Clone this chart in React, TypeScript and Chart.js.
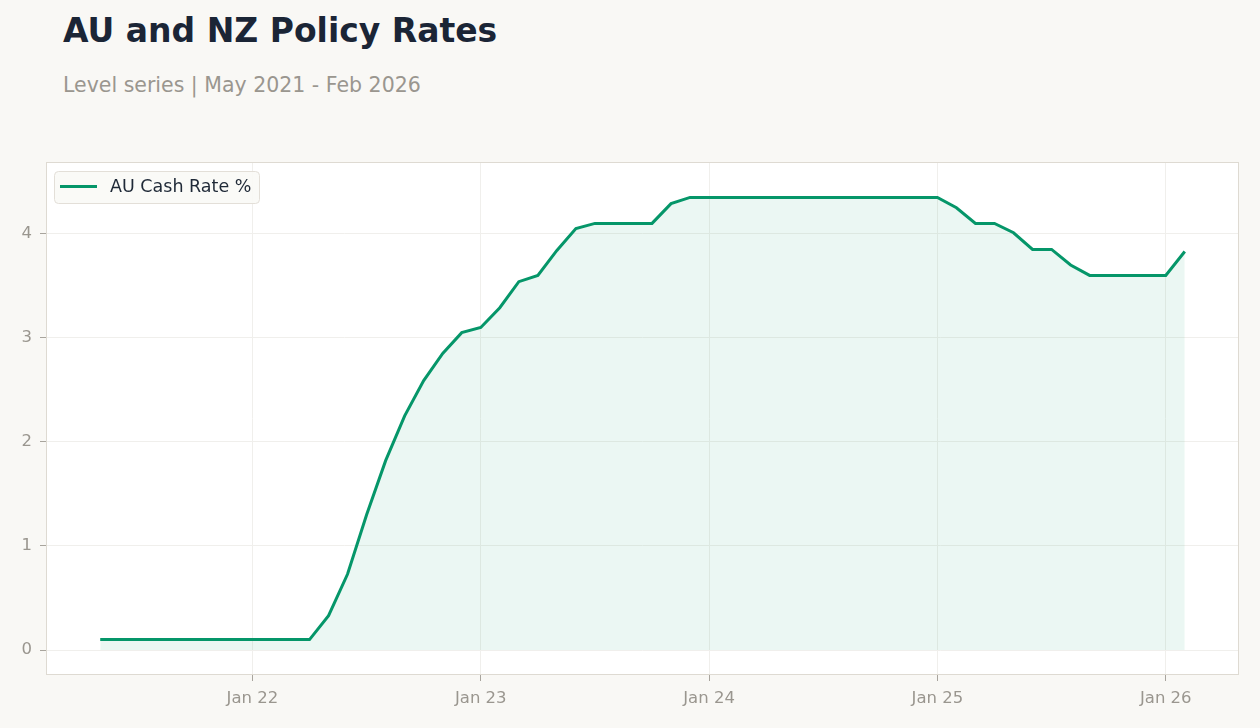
import { useEffect, useRef } from "react";
import { Chart, registerables } from "chart.js";

Chart.register(...registerables);

const months = [
  "May 21", "Jun 21", "Jul 21", "Aug 21", "Sep 21", "Oct 21", "Nov 21", "Dec 21",
  "Jan 22", "Feb 22", "Mar 22", "Apr 22", "May 22", "Jun 22", "Jul 22", "Aug 22", "Sep 22", "Oct 22", "Nov 22", "Dec 22",
  "Jan 23", "Feb 23", "Mar 23", "Apr 23", "May 23", "Jun 23", "Jul 23", "Aug 23", "Sep 23", "Oct 23", "Nov 23", "Dec 23",
  "Jan 24", "Feb 24", "Mar 24", "Apr 24", "May 24", "Jun 24", "Jul 24", "Aug 24", "Sep 24", "Oct 24", "Nov 24", "Dec 24",
  "Jan 25", "Feb 25", "Mar 25", "Apr 25", "May 25", "Jun 25", "Jul 25", "Aug 25", "Sep 25", "Oct 25", "Nov 25", "Dec 25",
  "Jan 26", "Feb 26",
];

const auCashRate = [
  0.10, 0.10, 0.10, 0.10, 0.10, 0.10, 0.10, 0.10,
  0.10, 0.10, 0.10, 0.10, 0.33, 0.73, 1.30, 1.82, 2.25, 2.59, 2.85, 3.05,
  3.10, 3.29, 3.54, 3.60, 3.84, 4.05, 4.10, 4.10, 4.10, 4.10, 4.29, 4.35,
  4.35, 4.35, 4.35, 4.35, 4.35, 4.35, 4.35, 4.35, 4.35, 4.35, 4.35, 4.35,
  4.35, 4.25, 4.10, 4.10, 4.01, 3.85, 3.85, 3.70, 3.60, 3.60, 3.60, 3.60,
  3.60, 3.83,
];

const xTickLabels = ["Jan 22", "Jan 23", "Jan 24", "Jan 25", "Jan 26"];
const yTickValues = [0, 1, 2, 3, 4];

const seriesLabel = "AU Cash Rate %";
const LINE = "#059669";
const FONT = "'DejaVu Sans', sans-serif";

export default function App() {
  const ref = useRef<HTMLCanvasElement | null>(null);

  useEffect(() => {
    const canvas = ref.current;
    if (!canvas) return;
    const n = months.length - 1;

    const framePlugin = {
      id: "frame",
      beforeDraw(chart: any) {
        const { ctx, chartArea: a } = chart;
        ctx.save();
        ctx.fillStyle = "#ffffff";
        ctx.fillRect(a.left, a.top, a.right - a.left, a.bottom - a.top);
        ctx.restore();
      },
      afterDraw(chart: any) {
        const { ctx, chartArea: a } = chart;
        ctx.save();
        ctx.strokeStyle = "#dedad2";
        ctx.lineWidth = 1;
        ctx.strokeRect(a.left + 0.5, a.top + 0.5, a.right - a.left - 1, a.bottom - a.top - 1);
        // legend
        const x = 54.5, y = 171.5, w = 205, h = 32;
        ctx.beginPath();
        (ctx as any).roundRect(x, y, w, h, 4);
        ctx.fillStyle = "rgba(250,249,246,0.9)";
        ctx.fill();
        ctx.strokeStyle = "#e3dfd8";
        ctx.stroke();
        ctx.beginPath();
        ctx.moveTo(60, 186.5);
        ctx.lineTo(97, 186.5);
        ctx.strokeStyle = LINE;
        ctx.lineWidth = 3;
        ctx.stroke();
        ctx.fillStyle = "#1f2937";
        ctx.font = `17.5px ${FONT}`;
        ctx.textBaseline = "middle";
        ctx.textAlign = "left";
        ctx.fillText(chart.data.datasets[0].label, 110, 187);
        ctx.restore();
      },
    };

    const chart = new Chart(canvas, {
      type: "line",
      data: {
        datasets: [
          {
            label: seriesLabel,
            data: auCashRate.map((v, i) => ({ x: i, y: v })),
            borderColor: LINE,
            borderWidth: 3,
            backgroundColor: "rgba(5,150,105,0.08)",
            fill: "origin",
            pointRadius: 0,
            tension: 0,
          },
        ],
      },
      options: {
        animation: false,
        responsive: false,
        devicePixelRatio: 1,
        layout: { padding: { left: 0, top: 162, right: 21, bottom: 0 } },
        plugins: {
          legend: { display: false },
          tooltip: { enabled: false },
        },
        scales: {
          x: {
            type: "linear",
            min: -0.05 * n,
            max: n * 1.05,
            afterBuildTicks: (scale: any) => {
              scale.ticks = xTickLabels.map((l) => ({ value: months.indexOf(l) }));
            },
            afterFit: (scale: any) => {
              scale.height = 53;
            },
            grid: {
              color: "#f0efec",
              tickColor: "#a8a49d",
              tickLength: 6,
              drawTicks: true,
            },
            border: { display: false },
            ticks: {
              callback: (v: any) => months[Math.round(Number(v))] ?? "",
              color: "#9a968f",
              font: { family: FONT, size: 16.5 },
              padding: 8,
              maxRotation: 0,
              autoSkip: false,
            },
          },
          y: {
            min: -0.24,
            max: 4.69,
            afterBuildTicks: (scale: any) => {
              scale.ticks = yTickValues.map((v) => ({ value: v }));
            },
            afterFit: (scale: any) => {
              scale.width = 46;
            },
            grid: {
              color: "#f0efec",
              tickColor: "#a8a49d",
              tickLength: 6,
            },
            border: { display: false },
            ticks: {
              callback: (v: any) => String(v),
              color: "#9a968f",
              font: { family: FONT, size: 16.5 },
              padding: 8,
            },
          },
        },
      },
      plugins: [framePlugin],
    });

    return () => chart.destroy();
  }, []);

  return (
    <div
      style={{
        position: "fixed",
        left: 0,
        top: 0,
        width: 1260,
        height: 728,
        background: "#f9f8f5",
        fontFamily: FONT,
        overflow: "hidden",
      }}
    >
      <div
        style={{
          position: "absolute",
          left: 63,
          top: 14,
          fontSize: 33,
          lineHeight: "33px",
          fontWeight: "bold",
          color: "#1b2536",
          whiteSpace: "nowrap",
        }}
      >
        AU and NZ Policy Rates
      </div>
      <div
        style={{
          position: "absolute",
          left: 63,
          top: 75,
          fontSize: 20.5,
          lineHeight: "20.5px",
          color: "#9a968f",
          whiteSpace: "nowrap",
        }}
      >
        Level series | May 2021 - Feb 2026
      </div>
      <canvas
        ref={ref}
        width={1260}
        height={728}
        style={{ position: "absolute", left: 0, top: 0, width: 1260, height: 728 }}
      />
    </div>
  );
}
